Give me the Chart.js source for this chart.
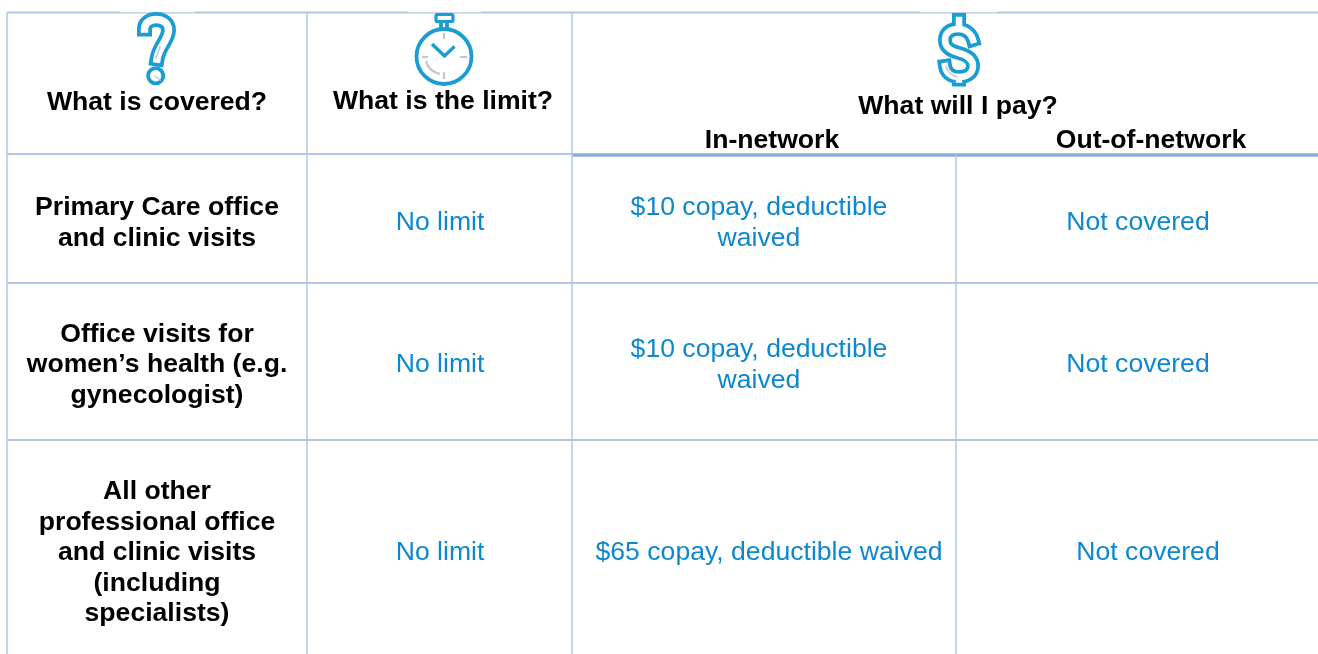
<!DOCTYPE html>
<html>
<head>
<meta charset="utf-8">
<title>What is covered</title>
<script src="https://cdn.jsdelivr.net/npm/chart.js@4"></script>
<style>
  html,body{margin:0;padding:0;background:#fff;overflow:hidden}
  canvas{display:block}
</style>
</head>
<body>
<canvas id="coveragetable" width="1318" height="654"></canvas>
<script>
// table content
const headers = ["What is covered?", "What is the limit?", "What will I pay?", "In-network", "Out-of-network"];
const covered = [
  ["Primary Care office", "and clinic visits"],
  ["Office visits for", "women’s health (e.g.", "gynecologist)"],
  ["All other", "professional office", "and clinic visits", "(including", "specialists)"]
];
const limits = ["No limit", "No limit", "No limit"];
const inNetwork = [
  ["$10 copay, deductible", "waived"],
  ["$10 copay, deductible", "waived"],
  ["$65 copay, deductible waived"]
];
const outNetwork = ["Not covered", "Not covered", "Not covered"];

// axis ticks: where the table rules sit on the page
const columnTicks = [7, 307, 572, 956, 1318];
const rowTicks = [12.5, 154, 283, 440, 654];
const rowMiddles = [223, 365, 553];

const black = "#000000";
const blue = "#0b88d0";
const icon = "#1b9cd2";
const rule = "#b4c6e7";
const ruleDark = "#8eaadb";

function ruleSet(x1, y1, x2, y2, color, width) {
  return {
    type: 'line',
    data: [{x: x1, y: y1}, {x: x2, y: y2}],
    borderColor: color,
    borderWidth: width,
    pointRadius: 0,
    showLine: true
  };
}

const rules = [];
[0, 1, 2].forEach(function (i) {
  rules.push(ruleSet(columnTicks[i], rowTicks[0], columnTicks[i], rowTicks[4], rule, 1.5));
});
rules.push(ruleSet(columnTicks[3], rowTicks[1], columnTicks[3], rowTicks[4], rule, 1.5));
rules.push(ruleSet(columnTicks[0], rowTicks[0], columnTicks[4], rowTicks[0], rule, 2));
rules.push(ruleSet(columnTicks[0], rowTicks[1], columnTicks[2], rowTicks[1], rule, 2));
rules.push(ruleSet(columnTicks[2], rowTicks[1] + 1, columnTicks[4], rowTicks[1] + 1, ruleDark, 3.6));
rules.push(ruleSet(columnTicks[0], rowTicks[2], columnTicks[4], rowTicks[2], rule, 1.8));
rules.push(ruleSet(columnTicks[0], rowTicks[3], columnTicks[4], rowTicks[3], rule, 1.8));

// one text point per cell, lines are stacked round y
const textPoints = [
  {x: 157, y: 103, lines: [headers[0]], bold: true},
  {x: 443, y: 102, lines: [headers[1]], bold: true},
  {x: 958, y: 107, lines: [headers[2]], bold: true},
  {x: 772, y: 141, lines: [headers[3]], bold: true},
  {x: 1151, y: 141, lines: [headers[4]], bold: true}
];
const limitX = [440, 440, 440];
const inX = [759, 759, 769];
const outX = [1138, 1138, 1148];
rowMiddles.forEach(function (y, i) {
  textPoints.push({x: 157, y: y, lines: covered[i], bold: true});
  textPoints.push({x: limitX[i], y: y, lines: [limits[i]]});
  textPoints.push({x: inX[i], y: y, lines: inNetwork[i]});
  textPoints.push({x: outX[i], y: y, lines: [outNetwork[i]]});
});

function outline(ctx, draw, wide, thin) {
  ctx.lineJoin = 'round';
  ctx.lineCap = 'square';
  ctx.strokeStyle = icon;
  ctx.lineWidth = wide;
  ctx.beginPath(); draw(); ctx.stroke();
  ctx.strokeStyle = '#fff';
  ctx.lineWidth = thin;
  ctx.beginPath(); draw(); ctx.stroke();
}

// the three little pictures over the header text
const iconPlugin = {
  id: 'icons',
  afterDatasetsDraw(chart) {
    const ctx = chart.ctx;
    ctx.save();
    ctx.fillStyle = '#fff';
    ctx.fillRect(120, 10, 75, 2.2);
    ctx.fillRect(408, 10, 73, 2.2);
    ctx.fillRect(920, 10, 77, 2.2);

    // question mark
    outline(ctx, function () {
      ctx.moveTo(144.5, 29);
      ctx.bezierCurveTo(144.5, 23, 150, 19.5, 156, 19.5);
      ctx.bezierCurveTo(164, 19.5, 168.5, 24, 168.5, 30);
      ctx.bezierCurveTo(168.5, 40, 159, 46, 157, 59);
    }, 15, 7.5);
    ctx.strokeStyle = icon;
    ctx.lineWidth = 3.8;
    ctx.beginPath();
    ctx.arc(155.7, 75.7, 7.6, 0, Math.PI * 2);
    ctx.stroke();
    ctx.strokeStyle = '#c3ccd2';
    ctx.lineWidth = 1.6;
    ctx.beginPath();
    ctx.moveTo(160, 47); ctx.lineTo(156, 58);
    ctx.moveTo(155, 76); ctx.lineTo(160, 80);
    ctx.stroke();

    // stopwatch
    ctx.strokeStyle = icon;
    ctx.lineWidth = 3.8;
    ctx.lineCap = 'butt';
    ctx.beginPath();
    ctx.arc(444, 56.5, 27.5, 0, Math.PI * 2);
    ctx.moveTo(441, 22); ctx.lineTo(441, 29);
    ctx.moveTo(447, 22); ctx.lineTo(447, 29);
    ctx.stroke();
    ctx.beginPath();
    ctx.roundRect(436, 14.5, 17, 7, 1.5);
    ctx.lineWidth = 3.2;
    ctx.stroke();
    ctx.lineWidth = 3.4;
    ctx.lineJoin = 'miter';
    ctx.beginPath();
    ctx.moveTo(432, 44); ctx.lineTo(444.5, 56); ctx.lineTo(454.5, 46.5);
    ctx.stroke();
    ctx.strokeStyle = '#bcc7ce';
    ctx.lineWidth = 2.2;
    ctx.beginPath();
    ctx.moveTo(444, 33); ctx.lineTo(444, 39);
    ctx.moveTo(444, 72); ctx.lineTo(444, 79);
    ctx.moveTo(422, 57); ctx.lineTo(428, 57);
    ctx.moveTo(460, 57); ctx.lineTo(467, 57);
    ctx.moveTo(426, 61);
    ctx.quadraticCurveTo(428, 71, 440, 74);
    ctx.stroke();

    // dollar sign
    const both = function () {
      ctx.moveTo(959, 20); ctx.lineTo(959, 29);
      ctx.moveTo(959, 77); ctx.lineTo(959, 79.5);
      ctx.moveTo(973, 40);
      ctx.bezierCurveTo(971, 33, 965, 29, 958, 29);
      ctx.bezierCurveTo(950, 29, 945, 33, 945, 40);
      ctx.bezierCurveTo(945, 48, 951, 51, 959, 53);
      ctx.bezierCurveTo(968, 55.5, 973, 59, 973, 66);
      ctx.bezierCurveTo(973, 73, 967, 77, 959, 77);
      ctx.bezierCurveTo(951, 77, 946, 73, 945, 66);
    };
    outline(ctx, both, 14, 6.5);
    ctx.strokeStyle = '#c3ccd2';
    ctx.lineWidth = 1.6;
    ctx.beginPath();
    ctx.moveTo(946, 67); ctx.quadraticCurveTo(949, 75, 957, 77);
    ctx.stroke();
    ctx.restore();
  }
};

// cell text
const cellText = {
  id: 'cellText',
  afterDatasetsDraw(chart) {
    const ctx = chart.ctx;
    const sx = chart.scales.x;
    const sy = chart.scales.y;
    ctx.save();
    ctx.textAlign = 'center';
    ctx.textBaseline = 'middle';
    textPoints.forEach(function (p) {
      ctx.font = (p.bold ? 'bold ' : '') + '26.6px "Liberation Sans", Arial, sans-serif';
      ctx.fillStyle = p.bold ? black : blue;
      const lineGap = 30.5;
      const top = p.y - (p.lines.length - 1) * lineGap / 2;
      p.lines.forEach(function (line, i) {
        ctx.fillText(line, sx.getPixelForValue(p.x), sy.getPixelForValue(top + i * lineGap));
      });
    });
    ctx.restore();
  }
};

const ctx = document.getElementById('coveragetable');

new Chart(ctx, {
  type: 'scatter',
  data: {
    datasets: rules.concat([{
      label: 'cells',
      data: textPoints,
      pointRadius: 0
    }])
  },
  options: {
    responsive: false,
    animation: false,
    layout: {padding: 0},
    plugins: {
      legend: {display: false},
      title: {display: false},
      tooltip: {enabled: false}
    },
    scales: {
      x: {type: 'linear', min: 0, max: 1318, display: false},
      y: {type: 'linear', min: 0, max: 654, reverse: true, display: false}
    }
  },
  plugins: [iconPlugin, cellText]
});
</script>
</body>
</html>
